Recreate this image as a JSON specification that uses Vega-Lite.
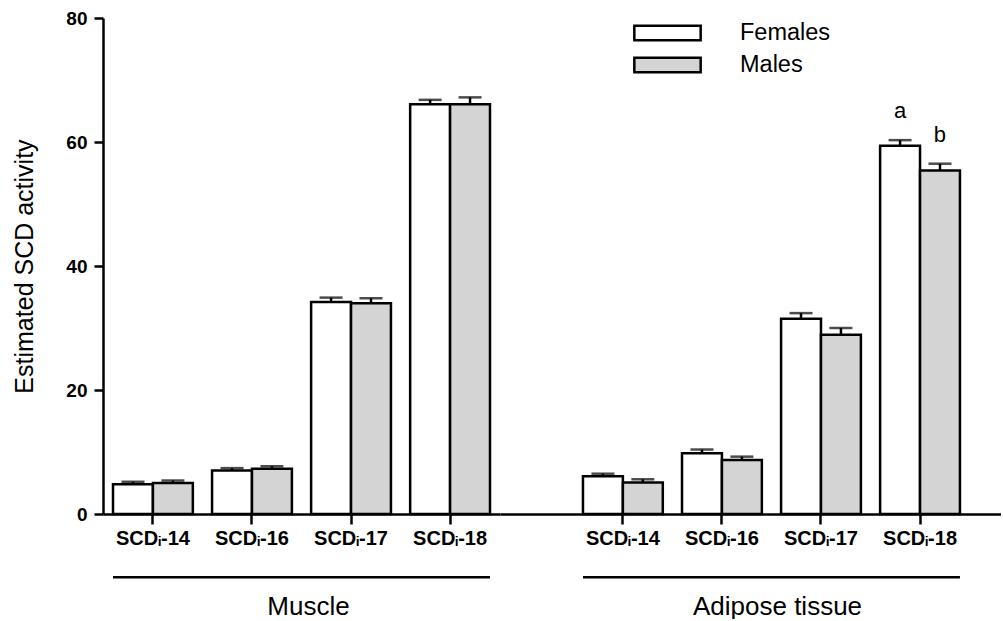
{
  "$schema": "https://vega.github.io/schema/vega-lite/v6.json",
  "padding": {"left": 12, "top": 9, "right": 0, "bottom": 0},
  "bounds": "flush",
  "spacing": 0,
  "background": "white",
  "config": {
    "view": {"stroke": null},
    "font": "Liberation Sans",
    "axis": {"grid": false, "domainColor": "black", "domainWidth": 2.5, "tickColor": "black", "tickWidth": 2.5, "tickSize": 10, "labelColor": "black", "titleColor": "black", "titleFont": "Liberation Sans", "labelFont": "Liberation Sans"}
  },
  "datasets": {
    "d": [
      {"tissue": "Muscle", "index": "SCDᵢ-14", "sex": "Females", "value": 4.8, "upper": 5.2, "sig": ""},
      {"tissue": "Muscle", "index": "SCDᵢ-14", "sex": "Males", "value": 5.0, "upper": 5.4, "sig": ""},
      {"tissue": "Muscle", "index": "SCDᵢ-16", "sex": "Females", "value": 7.0, "upper": 7.4, "sig": ""},
      {"tissue": "Muscle", "index": "SCDᵢ-16", "sex": "Males", "value": 7.3, "upper": 7.7, "sig": ""},
      {"tissue": "Muscle", "index": "SCDᵢ-17", "sex": "Females", "value": 34.2, "upper": 34.9, "sig": ""},
      {"tissue": "Muscle", "index": "SCDᵢ-17", "sex": "Males", "value": 34.0, "upper": 34.8, "sig": ""},
      {"tissue": "Muscle", "index": "SCDᵢ-18", "sex": "Females", "value": 66.1, "upper": 66.8, "sig": ""},
      {"tissue": "Muscle", "index": "SCDᵢ-18", "sex": "Males", "value": 66.1, "upper": 67.2, "sig": ""},
      {"tissue": "Adipose tissue", "index": "SCDᵢ-14", "sex": "Females", "value": 6.1, "upper": 6.5, "sig": ""},
      {"tissue": "Adipose tissue", "index": "SCDᵢ-14", "sex": "Males", "value": 5.1, "upper": 5.6, "sig": ""},
      {"tissue": "Adipose tissue", "index": "SCDᵢ-16", "sex": "Females", "value": 9.8, "upper": 10.4, "sig": ""},
      {"tissue": "Adipose tissue", "index": "SCDᵢ-16", "sex": "Males", "value": 8.7, "upper": 9.25, "sig": ""},
      {"tissue": "Adipose tissue", "index": "SCDᵢ-17", "sex": "Females", "value": 31.5, "upper": 32.4, "sig": ""},
      {"tissue": "Adipose tissue", "index": "SCDᵢ-17", "sex": "Males", "value": 28.9, "upper": 30.0, "sig": ""},
      {"tissue": "Adipose tissue", "index": "SCDᵢ-18", "sex": "Females", "value": 59.4, "upper": 60.3, "sig": "a"},
      {"tissue": "Adipose tissue", "index": "SCDᵢ-18", "sex": "Males", "value": 55.4, "upper": 56.5, "sig": "b"}
    ]
  },
  "resolve": {"scale": {"fill": "independent"}, "legend": {"fill": "independent"}},
  "hconcat": [
    {
      "width": 397,
      "height": 496,
      "data": {"name": "d"},
      "transform": [{"filter": "datum.tissue === 'Muscle'"}],
      "encoding": {
        "x": {
          "field": "index", "type": "nominal",
          "sort": ["SCDᵢ-14", "SCDᵢ-16", "SCDᵢ-17", "SCDᵢ-18"],
          "scale": {"paddingInner": 0.194, "paddingOuter": 0.101},
          "axis": {"title": "Muscle", "titleFontSize": 26, "titleFontWeight": "normal", "titlePadding": 45, "titleX": 205, "labelAngle": 0, "labelFontSize": 20, "labelFontWeight": "bold", "labelPadding": 4}
        }
      },
      "layer": [
        {
          "mark": {"type": "bar", "stroke": "black", "strokeWidth": 2.5},
          "encoding": {
            "xOffset": {"field": "sex", "type": "nominal", "sort": ["Females", "Males"], "scale": {"paddingInner": 0, "paddingOuter": 0}},
            "y": {"field": "value", "type": "quantitative", "scale": {"domain": [0, 80], "nice": false},
              "axis": {"title": "Estimated SCD activity", "values": [0, 20, 40, 60, 80], "tickSize": 9, "labelFontSize": 19, "labelFontWeight": "bold", "labelPadding": 7, "titleFontSize": 25, "titleFontWeight": "normal", "titlePadding": 28}},
            "fill": {"field": "sex", "type": "nominal", "scale": {"domain": ["Females", "Males"], "range": ["white", "#d4d4d4"]}, "legend": null}
          }
        },
        {
          "mark": {"type": "rule", "color": "black", "strokeWidth": 2.5},
          "encoding": {
            "xOffset": {"field": "sex", "type": "nominal", "sort": ["Females", "Males"]},
            "y": {"field": "value", "type": "quantitative", "title": "Estimated SCD activity"},
            "y2": {"field": "upper"}
          }
        },
        {
          "mark": {"type": "tick", "color": "black", "thickness": 2.5, "size": 23, "orient": "horizontal"},
          "encoding": {
            "xOffset": {"field": "sex", "type": "nominal", "sort": ["Females", "Males"]},
            "y": {"field": "upper", "type": "quantitative", "title": "Estimated SCD activity"}
          }
        },
        {
          "data": {"values": [{}]},
          "mark": {"type": "rule", "color": "black", "strokeWidth": 2.5},
          "encoding": {
            "x": {"datum": "SCDᵢ-14", "type": "nominal", "bandPosition": 0},
            "x2": {"datum": "SCDᵢ-18", "bandPosition": 1},
            "y": {"datum": -10.2, "type": "quantitative"}
          }
        }
      ]
    },
    {
      "width": 501,
      "height": 496,
      "data": {"name": "d"},
      "transform": [{"filter": "datum.tissue === 'Adipose tissue'"}],
      "encoding": {
        "x": {
          "field": "index", "type": "nominal",
          "sort": ["SCDᵢ-14", "SCDᵢ-16", "SCDᵢ-17", "SCDᵢ-18"],
          "scale": {"paddingInner": 0.194, "paddingOuter": 0.626, "align": 0.669},
          "axis": {"title": "Adipose tissue", "titleFontSize": 26, "titleFontWeight": "normal", "titlePadding": 45, "titleX": 277, "labelAngle": 0, "labelFontSize": 20, "labelFontWeight": "bold", "labelPadding": 4}
        }
      },
      "layer": [
        {
          "mark": {"type": "bar", "stroke": "black", "strokeWidth": 2.5},
          "encoding": {
            "xOffset": {"field": "sex", "type": "nominal", "sort": ["Females", "Males"], "scale": {"paddingInner": 0, "paddingOuter": 0}},
            "y": {"field": "value", "type": "quantitative", "scale": {"domain": [0, 80], "nice": false}, "axis": null},
            "fill": {"field": "sex", "type": "nominal", "title": null,
              "scale": {"domain": ["Females", "Males"], "range": ["white", "#d4d4d4"]},
              "legend": {"orient": "none", "legendX": 150.5, "legendY": -2, "padding": 0, "symbolType": "M-2.14,-0.47H2.14V0.47H-2.14Z", "symbolSize": 961, "symbolStrokeColor": "black", "symbolStrokeWidth": 2.5, "symbolOpacity": 1, "labelFontSize": 23.5, "labelColor": "black", "labelFont": "Liberation Sans", "labelOffset": 55.5, "rowPadding": 2}}
          }
        },
        {
          "mark": {"type": "rule", "color": "black", "strokeWidth": 2.5},
          "encoding": {
            "xOffset": {"field": "sex", "type": "nominal", "sort": ["Females", "Males"]},
            "y": {"field": "value", "type": "quantitative", "axis": null},
            "y2": {"field": "upper"}
          }
        },
        {
          "mark": {"type": "tick", "color": "black", "thickness": 2.5, "size": 23, "orient": "horizontal"},
          "encoding": {
            "xOffset": {"field": "sex", "type": "nominal", "sort": ["Females", "Males"]},
            "y": {"field": "upper", "type": "quantitative", "axis": null}
          }
        },
        {
          "transform": [{"filter": "datum.sig !== ''"}],
          "mark": {"type": "text", "fontSize": 22, "dy": -22, "baseline": "alphabetic", "color": "black", "font": "Liberation Sans"},
          "encoding": {
            "xOffset": {"field": "sex", "type": "nominal", "sort": ["Females", "Males"]},
            "y": {"field": "upper", "type": "quantitative", "axis": null},
            "text": {"field": "sig"}
          }
        },
        {
          "data": {"values": [{}]},
          "mark": {"type": "rule", "color": "black", "strokeWidth": 2.5},
          "encoding": {
            "x": {"datum": "SCDᵢ-14", "type": "nominal", "bandPosition": 0},
            "x2": {"datum": "SCDᵢ-18", "bandPosition": 1},
            "y": {"datum": -10.2, "type": "quantitative"}
          }
        }
      ]
    }
  ]
}
